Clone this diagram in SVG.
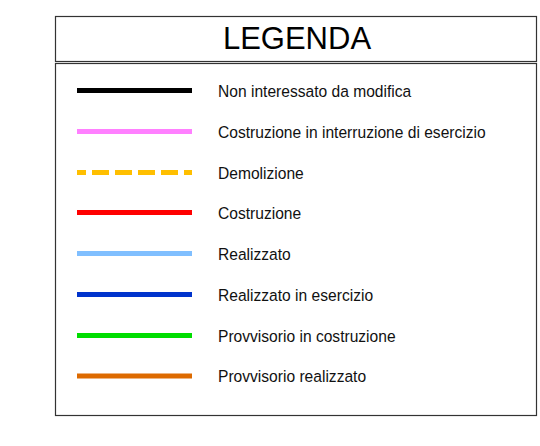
<svg xmlns="http://www.w3.org/2000/svg" width="540" height="446" viewBox="0 0 540 446">
<style>
.box{fill:none;stroke:#333;stroke-width:1.2}
.ln{stroke-width:5;fill:none}
.lbl{font-family:"Liberation Sans",Arial,sans-serif;font-size:17px;fill:#111}
</style>
<rect width="540" height="446" fill="#fff"/>
<g id="title">
<rect class="box" x="55.5" y="16.5" width="481" height="45"/>
<text x="297" y="48.5" text-anchor="middle" font-family="Liberation Sans, Arial, sans-serif" font-size="31" fill="#000">LEGENDA</text>
</g>
<g id="legend-box">
<rect class="box" x="55.5" y="63.5" width="481" height="352"/>
</g>
<g id="items">
<g id="item1"><line class="ln" x1="77" y1="90.5" x2="192" y2="90.5" stroke="#000"/><text class="lbl" transform="matrix(0.918 0 0 1 218 96.7)">Non interessato da modifica</text></g>
<g id="item2"><line class="ln" x1="77" y1="131.5" x2="192" y2="131.5" stroke="#ff80ff"/><text class="lbl" transform="matrix(0.918 0 0 1 218 137.7)">Costruzione in interruzione di esercizio</text></g>
<g id="item3"><line class="ln" x1="77" y1="172.5" x2="192" y2="172.5" stroke="#ffbf00" stroke-dasharray="17 6" stroke-dashoffset="8"/><text class="lbl" transform="matrix(0.918 0 0 1 218 178.7)">Demolizione</text></g>
<g id="item4"><line class="ln" x1="77" y1="212.5" x2="192" y2="212.5" stroke="#ff0000"/><text class="lbl" transform="matrix(0.918 0 0 1 218 218.7)">Costruzione</text></g>
<g id="item5"><line class="ln" x1="77" y1="253.5" x2="192" y2="253.5" stroke="#80bfff"/><text class="lbl" transform="matrix(0.918 0 0 1 218 259.7)">Realizzato</text></g>
<g id="item6"><line class="ln" x1="77" y1="294.5" x2="192" y2="294.5" stroke="#0033cc"/><text class="lbl" transform="matrix(0.918 0 0 1 218 300.7)">Realizzato in esercizio</text></g>
<g id="item7"><line class="ln" x1="77" y1="335.5" x2="192" y2="335.5" stroke="#00dd00"/><text class="lbl" transform="matrix(0.918 0 0 1 218 341.7)">Provvisorio in costruzione</text></g>
<g id="item8"><line class="ln" x1="77" y1="376" x2="192" y2="376" stroke="#dd6a00"/><text class="lbl" transform="matrix(0.918 0 0 1 218 382.2)">Provvisorio realizzato</text></g>
</g>
</svg>
